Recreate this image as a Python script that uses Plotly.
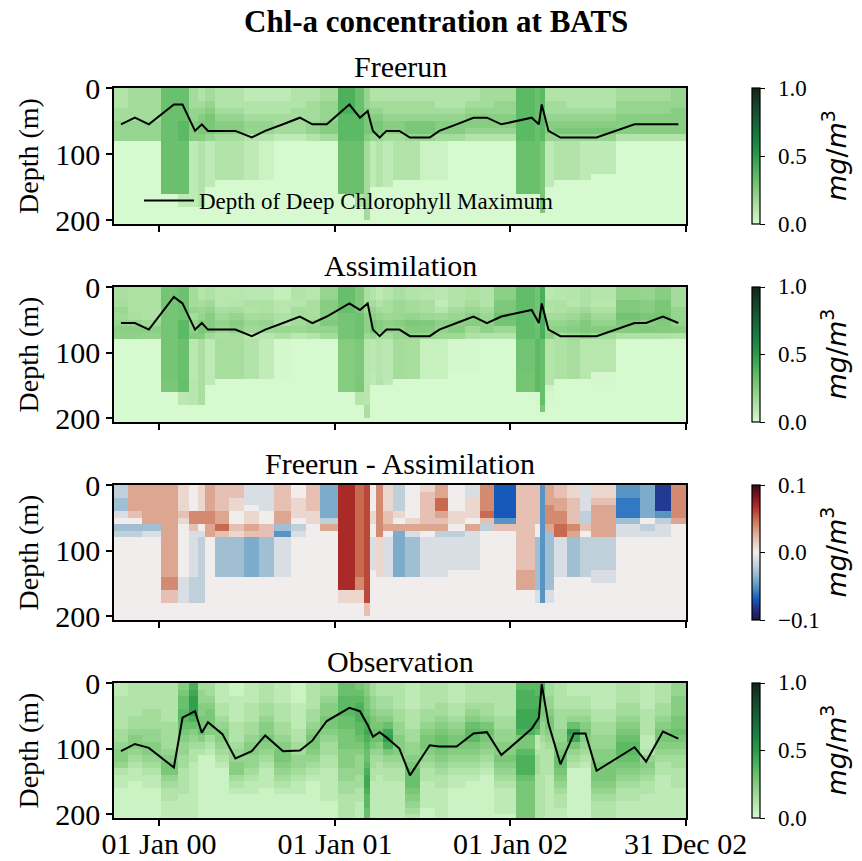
import plotly.graph_objects as go

# ---------------- data ----------------
DATES = ["1999-10-14", "1999-11-12", "1999-12-11", "2000-02-01", "2000-02-19", "2000-03-16",
         "2000-03-30", "2000-04-12", "2000-05-12", "2000-06-08", "2000-07-12", "2000-08-09",
         "2000-09-15", "2000-10-20", "2000-11-15", "2000-12-15", "2001-01-31", "2001-02-22",
         "2001-03-10", "2001-03-21", "2001-04-04", "2001-04-18", "2001-05-15", "2001-06-06",
         "2001-07-17", "2001-08-06", "2001-09-11", "2001-10-16", "2001-11-13", "2001-12-13",
         "2002-02-14", "2002-03-01", "2002-03-07", "2002-03-21", "2002-04-15", "2002-05-13",
         "2002-06-06", "2002-06-29", "2002-09-16", "2002-10-10", "2002-11-14", "2002-12-16"]

DEPTHS = [5, 15, 25, 35, 45, 55, 65, 75, 85, 95, 105, 115, 125, 135, 145, 155, 165, 175, 185, 195, 205]

# chlorophyll level codes (mg/m3)
GREEN_CODES = "0123456789abcdef"
GREEN_LEVELS = [0.00, 0.04, 0.08, 0.12, 0.16, 0.20, 0.24, 0.28, 0.32, 0.36, 0.40, 0.44, 0.48, 0.52, 0.56, 0.60]
# difference level codes (mg/m3)
DIFF_CODES = "xihgfedcba0123456789X"
DIFF_LEVELS = [-0.10, -0.09, -0.08, -0.07, -0.06, -0.05, -0.04, -0.03, -0.02, -0.01, 0.00,
               0.01, 0.02, 0.03, 0.04, 0.05, 0.06, 0.07, 0.08, 0.09, 0.10]

# one string per date column, top (5 m) to bottom (205 m)
FREERUN_COLS = [
    "333445550000000000000", "444445550000000000000", "444445550000000000000",
    "888888888888888800000", "888889998888888822000", "444556662222222222000",
    "334567763333333333000", "445677752222222000000", "333456643333330000000",
    "333456643333330000000", "223345532222220000000", "223345531111110000000",
    "223344420000000000000", "333444420000000000000", "334445530000000000000",
    "445556640000000000000", "aaaa99998888888800000", "888899998888888833000",
    "555677764444444444440", "334567752222222000000", "334567753333333000000",
    "334456642222222000000", "334456643333330000000", "334457753333330000000",
    "334457751111110000000", "333456641111110000000", "333456640000000000000",
    "334566530000000000000", "444566530000000000000", "445566530000000000000",
    "999999998888888800000", "888888888888888800000", "999999997777777777700",
    "334456652222222000000", "334456753333330000000", "333456753333330000000",
    "333456752222220000000", "333456752222200000000", "445566630000000000000",
    "445566630000000000000", "445566630000000000000", "555666630000000000000",
]

DIFF_COLS = [
    "bbcca0cb0000000000000", "333320cb0000000000000", "333333ca0000000000000",
    "333333333333334422000", "11112100000000aaaa000", "0000442aaaaaaabbbb000",
    "1111440abbbbbbbbbb000", "333344330000000000000", "22223352cccccc0000000",
    "22110021cccccc0000000", "aaa01132dddddd0000000", "aaaa0022cccccc0000000",
    "222233ceaaaaaa0000000", "001110ba0000000000000", "222211000000000000000",
    "dddddb300000000000000", "777777777777777711000", "555555555555554411000",
    "666666666666666666220", "00001100aaaaa00000000", "444444441111110000000",
    "11112230aaaaaa0000000", "bbbb103ddddddd0000000", "0000013acccccc0000000",
    "12222230aaaaaa0000000", "3355323baaaaaa0000000", "0000110baaaaa00000000",
    "aa11103aaaaaa00000000", "444452b00000000000000", "ggggge200000000000000",
    "222222222222233300000", "22222200ccccccccaa000", "eeeeeeeeeeeeeeeeee000",
    "3334443cccccccccaa000", "22334455aaaaaa0000000", "11222243cccccc0000000",
    "aaaabb20bbbbbb0000000", "11233333bbbbbaa000000", "eefffcaa0000000000000",
    "ddddd0ba0000000000000", "hhhhebaa0000000000000", "444443000000000000000",
]

OBS_COLS = [
    "223333344566532211111", "333334456654322111111", "333344455665432211111",
    "333333444456775433222", "678899876554433332222", "abccca865433222222222",
    "455667786431111111111", "445677764321111111111", "222334566543211111111",
    "112222333455664321111", "222333445665543221111", "333445667654322211111",
    "222333445677654321111", "111222233445543221111", "333344567765432111111",
    "445667765443322222111", "889998877766655443333", "789aaa998765554433222",
    "667789aba9889abba9988", "445567788754433222222", "334456788654332222222",
    "3344568bca75433222222", "333344556665433222222", "222233344556788876543",
    "333344567765433222211", "333445678876543322222", "222334567765432211111",
    "333456899765432111111", "333445787654321111111", "333334455667654322221",
    "9aaabbba779aaa8777777", "99aabba82234443333333", "a98776554333333333333",
    "445567765433332222222", "333344455678876543322", "2233458cb754311111111",
    "223345676543211111111", "222233445566777654333", "333445678998765433222",
    "222233332235654332222", "333445677654332222222", "556667787654433322222",
]

# depth of deep chlorophyll maximum (m)
FREERUN_DCM = [55, 45, 55, 25, 25, 65, 55, 65, 65, 65, 75, 65, 55, 45, 55, 55, 25, 45, 35, 65, 75,
               65, 65, 75, 75, 65, 55, 45, 45, 55, 45, 55, 25, 65, 75, 75, 75, 75, 55, 55, 55, 55]
ASSIM_DCM = [55, 55, 65, 15, 25, 65, 55, 65, 65, 65, 75, 65, 55, 45, 55, 45, 25, 35, 25, 65, 75,
             65, 65, 75, 75, 65, 55, 45, 55, 45, 35, 55, 25, 65, 75, 75, 75, 75, 55, 55, 45, 55]
OBS_DCM = [104, 93, 99, 129, 53, 43, 76, 60, 78, 115, 104, 80, 104, 103, 88, 58, 38, 43, 64, 82, 75,
           83, 100, 141, 95, 97, 97, 77, 75, 110, 70, 53, 2, 62, 124, 77, 77, 134, 98, 120, 74, 85]

GREEN_TICKS = [0.0, 0.5, 1.0]
GREEN_TICKTEXT = ["0.0", "0.5", "1.0"]
DIFF_TICKS = [-0.1, 0.0, 0.1]
DIFF_TICKTEXT = ["\u22120.1", "0.0", "0.1"]

# ---------------- build grids ----------------
gmap = dict(zip(GREEN_CODES, GREEN_LEVELS))
dmap = dict(zip(DIFF_CODES, DIFF_LEVELS))


def grid(cols, cmap):
    return [[cmap[cols[c][r]] for c in range(len(cols))] for r in range(len(DEPTHS))]


freerun = grid(FREERUN_COLS, gmap)
diff = grid(DIFF_COLS, dmap)
assim = [[freerun[r][c] - diff[r][c] for c in range(len(DATES))] for r in range(len(DEPTHS))]
obs = grid(OBS_COLS, gmap)

ALGAE = [[0.0, "rgb(215,249,208)"], [0.125, "rgb(176,226,166)"], [0.25, "rgb(133,204,127)"],
         [0.375, "rgb(86,182,96)"], [0.5, "rgb(43,155,75)"], [0.625, "rgb(23,127,66)"],
         [0.75, "rgb(22,98,56)"], [0.875, "rgb(22,68,42)"], [1.0, "rgb(18,36,20)"]]
BALANCE = [[0.0, "rgb(24,28,67)"], [0.08, "rgb(38,45,130)"], [0.16, "rgb(20,95,195)"],
           [0.24, "rgb(80,145,195)"], [0.32, "rgb(140,180,205)"], [0.40, "rgb(192,208,218)"],
           [0.50, "rgb(241,237,236)"], [0.60, "rgb(230,192,178)"], [0.68, "rgb(216,150,125)"],
           [0.76, "rgb(198,100,74)"], [0.84, "rgb(175,45,40)"], [0.92, "rgb(125,18,35)"],
           [1.0, "rgb(60,9,18)"]]

W, H = 862, 861
SERIF = "Liberation Serif"
# panel pixel extents (top, bottom)
PANELS = [(88, 224), (287, 422), (485, 620), (683, 818)]
XL, XR = 114, 686


def py(px):
    return 1 - px / H


fig = go.Figure()
specs = [
    (freerun, FREERUN_DCM, "Freerun", ALGAE, 0, 1, True),
    (assim, ASSIM_DCM, "Assimilation", ALGAE, 0, 1, True),
    (diff, None, "Freerun - Assimilation", BALANCE, -0.1, 0.1, False),
    (obs, OBS_DCM, "Observation", ALGAE, 0, 1, True),
]

axis_style = dict(showline=True, mirror=True, linecolor="black", linewidth=1.5,
                  ticks="outside", ticklen=6, tickwidth=1.5, tickcolor="black",
                  showgrid=False, zeroline=False, tickfont=dict(family=SERIF, size=30, color="black"))

annotations = []
layout = {}
for i, (z, dcm, title, cs, zmin, zmax, green) in enumerate(specs):
    xa = "x" if i == 0 else f"x{i+1}"
    ya = "y" if i == 0 else f"y{i+1}"
    top, bot = PANELS[i]
    tv = GREEN_TICKS if green else DIFF_TICKS
    tt = GREEN_TICKTEXT if green else DIFF_TICKTEXT
    fig.add_trace(go.Heatmap(
        x=DATES, y=DEPTHS, z=z, colorscale=cs, zmin=zmin, zmax=zmax, xaxis=xa, yaxis=ya,
        colorbar=dict(x=752 / W, xanchor="left", y=py((top + bot) / 2), yanchor="middle",
                      len=(bot - top) / H, lenmode="fraction", thickness=8, xpad=0, ypad=0,
                      outlinewidth=1.2, outlinecolor="black", ticks="outside", ticklen=5,
                      tickwidth=1.2, tickcolor="black", tickvals=tv, showticklabels=False),
    ))
    # colorbar tick labels
    for v, t in zip(tv, tt):
        frac = (v - zmin) / (zmax - zmin)
        annotations.append(dict(text=t, x=776 / W, y=py(bot) + frac * (bot - top) / H,
                                xref="paper", yref="paper", xanchor="left", yanchor="middle",
                                showarrow=False, font=dict(family=SERIF, size=23, color="black")))
    if dcm is not None:
        fig.add_trace(go.Scatter(
            x=DATES, y=dcm, mode="lines", line=dict(color="black", width=2), xaxis=xa, yaxis=ya,
            name="Depth of Deep Chlorophyll Maximum", showlegend=(i == 0)))
    layout["xaxis" if i == 0 else f"xaxis{i+1}"] = dict(
        domain=[XL / W, XR / W], anchor=ya, type="date",
        range=["1999-09-29 12:00", "2003-01-01"],
        tickvals=["2000-01-01", "2001-01-01", "2002-01-01", "2002-12-31"],
        ticktext=["01 Jan 00", "01 Jan 01", "01 Jan 02", "31 Dec 02"],
        showticklabels=(i == 3), ticklabelstandoff=-8, **axis_style)
    if i > 0:
        layout[f"xaxis{i+1}"]["matches"] = "x"
    layout["yaxis" if i == 0 else f"yaxis{i+1}"] = dict(
        domain=[py(bot), py(top)], anchor=xa, range=[206, 0], tickvals=[0, 100, 200], **axis_style)
    annotations.append(dict(text=title, x=(XL + XR) / 2 / W, y=py(top - 3), xref="paper", yref="paper",
                            xanchor="center", yanchor="bottom", showarrow=False,
                            font=dict(family=SERIF, size=30, color="black")))
    annotations.append(dict(text="Depth (m)", x=28 / W, y=py((top + bot) / 2), xref="paper", yref="paper",
                            xanchor="center", yanchor="middle", textangle=-90, showarrow=False,
                            font=dict(family=SERIF, size=28, color="black")))
    annotations.append(dict(text="<i>mg</i>/<i>m</i><sup>3</sup>", x=834 / W, y=py((top + bot) / 2),
                            xref="paper", yref="paper", xanchor="center", yanchor="middle",
                            textangle=-90, showarrow=False,
                            font=dict(family="DejaVu Sans", size=27, color="black")))

annotations.append(dict(text="<b>Chl-a concentration at BATS</b>", x=436 / W, y=py(21), xref="paper",
                        yref="paper", xanchor="center", yanchor="middle", showarrow=False,
                        font=dict(family=SERIF, size=31, color="black")))

fig.update_layout(
    width=W, height=H, margin=dict(l=0, r=0, t=0, b=0, autoexpand=False),
    paper_bgcolor="white", plot_bgcolor="white",
    annotations=annotations,
    showlegend=True,
    legend=dict(x=139 / W, y=py(179), xanchor="left", yanchor="top", bgcolor="rgba(0,0,0,0)",
                itemwidth=50, font=dict(family=SERIF, size=23, color="black")),
    **layout,
)

fig.write_html("out.html")
